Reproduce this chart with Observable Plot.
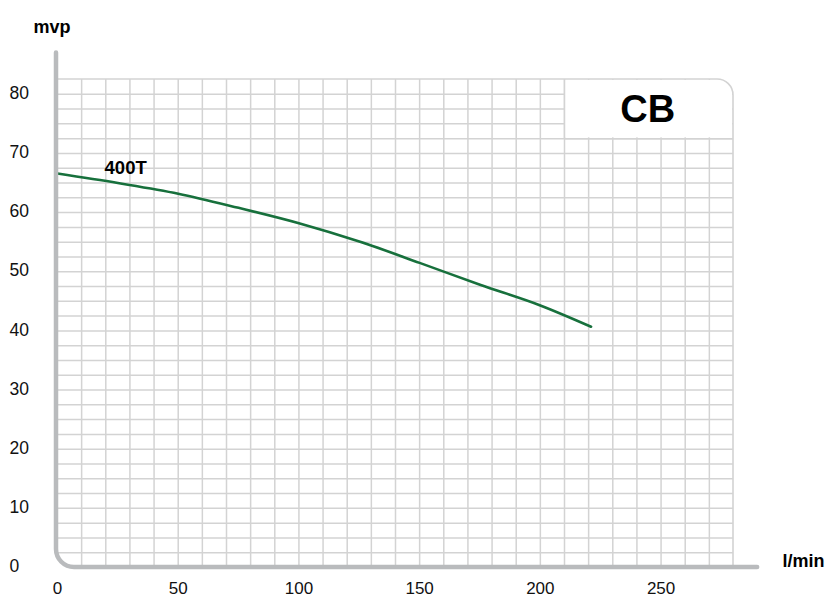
<!DOCTYPE html>
<html><head><meta charset="utf-8">
<script src="https://cdn.jsdelivr.net/npm/d3@7"></script>
<script src="https://cdn.jsdelivr.net/npm/@observablehq/plot@0.6"></script>
<style>body{margin:0;background:#fff;font-family:"Liberation Sans",Arial,sans-serif}</style>
</head><body><div id="chart"></div>
<script>
const flow = [0, 25, 50, 75, 100, 125, 150, 175, 200, 221];
const head = [66.6, 65.0, 63.2, 60.8, 58.2, 55.1, 51.5, 47.8, 44.3, 40.7];
const seriesName = "400T";
const xTicks = [0, 50, 100, 150, 200, 250];
const yTicks = [0, 10, 20, 30, 40, 50, 60, 70, 80];
const gridX = d3.range(10, 280, 10);
const gridY = d3.range(2.5, 82.5, 2.5);
const boxX = [210, 280], boxY = [72.5, 82.5];

const data = flow.map((f, i) => ({flow: f, head: head[i]}));
const gridCol = "#d3d3d3";

const axisL = (index, scales) => {
  const x0 = scales.x(0) - 1, y0 = scales.y(0), top = scales.y(87), right = scales.x(290), r = 18;
  const p = d3.create("svg:path")
    .attr("d", `M${x0},${top}V${y0 - r}A${r},${r} 0 0 0 ${x0 + r},${y0}H${right}`)
    .attr("fill", "none").attr("stroke", "#b9bbbd").attr("stroke-width", 4.5).attr("stroke-linecap", "round");
  return p.node();
};
const frameTR = (index, scales) => {
  const x0 = scales.x(0), yt = scales.y(82.5), xr = scales.x(280), yb = scales.y(0), r = 16;
  return d3.create("svg:path")
    .attr("d", `M${x0},${yt}H${xr - r}A${r},${r} 0 0 1 ${xr},${yt + r}V${yb}`)
    .attr("fill", "none").attr("stroke", gridCol).attr("stroke-width", 1.6).node();
};

const chart = Plot.plot({
  width: 836, height: 598,
  marginLeft: 57, marginRight: 103, marginTop: 79, marginBottom: 31,
  x: {domain: [0, 280], axis: null},
  y: {domain: [0, 82.5], axis: null},
  style: {fontFamily: '"Liberation Sans", Arial, sans-serif', background: "#fff"},
  marks: [
    Plot.ruleX(gridX, {y1: 0, y2: 82.5, stroke: gridCol, strokeWidth: 1.5}),
    Plot.ruleY(gridY, {x1: 0, x2: 280, stroke: gridCol, strokeWidth: 1.5}),
    Plot.rect([{}], {x1: boxX[0], x2: boxX[1], y1: boxY[0], y2: boxY[1], fill: "#fff", inset: 0.8}),
    Plot.ruleX([boxX[0]], {y1: boxY[0], y2: boxY[1], stroke: gridCol, strokeWidth: 1.5}),
    Plot.ruleY([boxY[0]], {x1: boxX[0], x2: boxX[1], stroke: gridCol, strokeWidth: 1.5}),
    frameTR,
    Plot.text(["CB"], {x: 244.5, y: 77.3, fontSize: 38, fontWeight: "bold", fill: "#000"}),
    Plot.line(data, {x: "flow", y: "head", stroke: "#17703c", strokeWidth: 2.6, curve: "monotone-x"}),
    Plot.text([seriesName], {x: 19.5, y: 67.6, textAnchor: "start", fontSize: 18.5, fontWeight: "bold", fill: "#000"}),
    axisL,
    Plot.text(yTicks, {x: 0, y: d => d, text: d => String(d), textAnchor: "start", dx: -48, dy: -1, fontSize: 17.5, fill: "#111"}),
    Plot.text(xTicks, {x: d => d, y: 0, text: d => String(d), dy: 21, fontSize: 17, fill: "#111"}),
    Plot.text(["mvp"], {frameAnchor: "top-left", textAnchor: "start", dx: -24, dy: -59, fontSize: 18, fontWeight: "bold", fill: "#000"}),
    Plot.text(["l/min"], {frameAnchor: "bottom-right", textAnchor: "start", dx: 49, dy: -1, fontSize: 18, fontWeight: "bold", fill: "#000"})
  ]
});
document.getElementById("chart").appendChild(chart);
</script>
</body></html>
